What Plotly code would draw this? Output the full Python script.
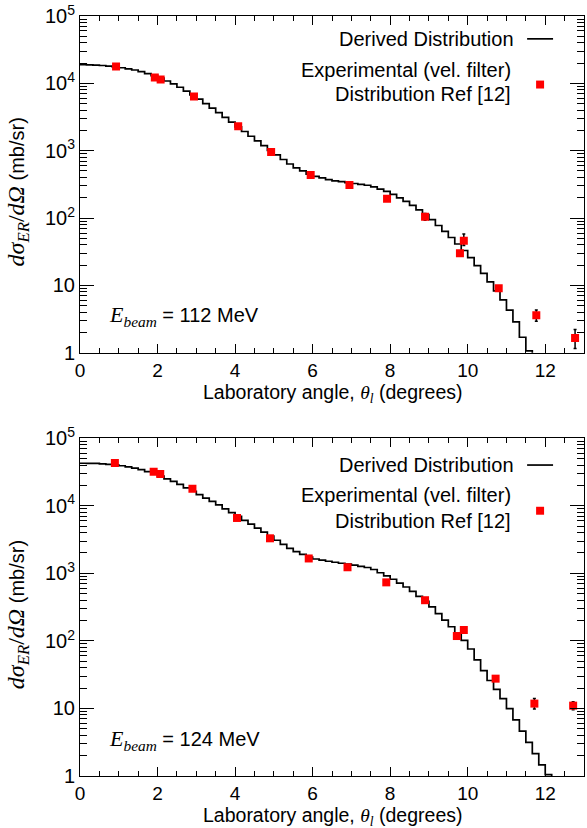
import numpy as np
import plotly.graph_objects as go

# ---------------- data ----------------
bin_width = 1.0 / 6.0  # degrees

derived_112 = [18970, 18840, 18710, 18410, 17990, 17580, 17060, 16410, 15780,
               14960, 13960, 13030, 11970, 10840, 9820, 8750, 7670, 6730,
               5850, 5010, 4300, 3670, 3130, 2660, 2260, 1930, 1640,
               1400, 1190, 1010, 865, 741, 635, 558, 501, 450,
               415, 394, 373, 357, 347, 337, 326, 316, 307,
               290, 269, 249, 225, 200, 177, 154, 132, 113,
               94.8, 77.6, 63.5, 51.5, 41.2, 33.0, 25.8, 19.7, 15.1,
               11.3, 8.32, 6.12, 4.30, 2.88, 1.70, 1.07]

derived_124 = [42600, 42500, 42300, 41800, 41000, 40200, 39100, 37600, 36100,
               34300, 32000, 29900, 27500, 25100, 22900, 20700, 18400, 16400,
               14600, 13000, 11600, 10300, 9020, 7910, 6950, 6100, 5350,
               4680, 4070, 3550, 3090, 2690, 2340, 2090, 1910, 1740,
               1630, 1570, 1510, 1460, 1410, 1370, 1320, 1270, 1220,
               1140, 1020, 918, 817, 716, 628, 541, 457, 386,
               318, 254, 203, 162, 129, 102, 75.9, 52.5, 36.3,
               25.9, 19.1, 14.0, 9.93, 6.76, 4.60, 3.14, 2.14, 1.46, 1.05]

empty_bin = 0.1  # value used after the last filled bin (below the axis floor)

exp_angle_112 = [0.93, 1.93, 2.08, 2.94, 4.08, 4.93, 5.95, 6.95, 7.92, 8.9, 9.8, 9.9, 10.8, 11.77, 12.77]
exp_val_112 = [17800, 12200, 11400, 6400, 2300, 955, 436, 310, 194, 105, 30, 46, 9.1, 3.6, 1.66]
exp_errp_112 = [0, 0, 0, 0, 0, 0, 0, 0, 0, 12, 0, 12, 0.8, 0.7, 0.55]
exp_errm_112 = [0, 0, 0, 0, 0, 0, 0, 0, 0, 12, 0, 7, 0.8, 0.65, 0.5]

exp_angle_124 = [0.9, 1.9, 2.07, 2.9, 4.05, 4.9, 5.9, 6.9, 7.9, 8.9, 9.72, 9.9, 10.72, 11.72, 12.72]
exp_val_124 = [43000, 32000, 29500, 17800, 6600, 3300, 1660, 1230, 735, 400, 118, 145, 27.6, 11.8, 11.0]
exp_errp_124 = [0, 0, 0, 0, 0, 0, 0, 0, 0, 0, 0, 0, 0, 2.2, 1.6]
exp_errm_124 = [0, 0, 0, 0, 0, 0, 0, 0, 0, 0, 0, 0, 0, 2.0, 1.4]

y_tickvals = [1, 10, 100, 1000, 10000, 100000]
y_ticktext = ["1", "10", "10<sup>2</sup>", "10<sup>3</sup>", "10<sup>4</sup>", "10<sup>5</sup>"]
beam_energies = ["112", "124"]

# ---------------- layout helpers ----------------
W, H = 587, 828
ML, MR, MT, MB = 80, 2, 11, 52
PW, PH = W - ML - MR, H - MT - MB


def px(xp):
    return (xp - ML) / PW


def py(yp):
    return (H - MB - yp) / PH


SANS = "Liberation Sans, Arial, sans-serif"
SERIF = "Liberation Serif, Times New Roman, serif"
FS = 20
TFS = 19

fig = go.Figure()


def step_xy(vals):
    n = len(vals)
    edges = np.arange(n + 1) * bin_width
    return edges, list(vals) + [empty_bin]


panels = [
    (derived_112, exp_angle_112, exp_val_112, exp_errp_112, exp_errm_112, "x", "y"),
    (derived_124, exp_angle_124, exp_val_124, exp_errp_124, exp_errm_124, "x2", "y2"),
]
for der, ea, ev, ep, em, xa, ya in panels:
    sx, sy = step_xy(der)
    fig.add_trace(go.Scatter(x=sx, y=sy, mode="lines", line=dict(color="black", width=1.7, shape="hv"),
                             xaxis=xa, yaxis=ya, showlegend=False, hoverinfo="skip"))
    fig.add_trace(go.Scatter(x=ea, y=ev, mode="markers",
                             marker=dict(symbol="square", size=8, color="#ff0000"),
                             error_y=dict(type="data", symmetric=False, array=ep, arrayminus=em,
                                          color="black", thickness=1.5, width=1.5),
                             xaxis=xa, yaxis=ya, showlegend=False))

xcommon = dict(range=[0, 13], tick0=0, dtick=2, ticks="inside", ticklen=9, tickwidth=1, tickcolor="black",
               minor=dict(ticks="inside", ticklen=5, dtick=0.5, tick0=0, tickcolor="black", tickwidth=1),
               showline=True, linecolor="black", linewidth=1, mirror="ticks", showgrid=False, zeroline=False,
               tickfont=dict(family=SANS, size=TFS, color="black"))
ycommon = dict(type="log", range=[0, 5], tickmode="array", tickvals=y_tickvals, ticktext=y_ticktext,
               ticks="inside", ticklen=14, tickwidth=1, tickcolor="black",
               minor=dict(ticks="inside", ticklen=7, dtick="D1", tickcolor="black", tickwidth=1),
               showline=True, linecolor="black", linewidth=1, mirror="ticks", showgrid=False, zeroline=False,
               tickfont=dict(family=SANS, size=FS, color="black"))

top_bottom_px = 350
bot_top_px = 436
fig.update_layout(
    width=W, height=H, margin=dict(l=ML, r=MR, t=MT, b=MB),
    paper_bgcolor="white", plot_bgcolor="white",
    xaxis=dict(anchor="y", domain=[0, 1], **xcommon),
    yaxis=dict(anchor="x", domain=[py(top_bottom_px), 1], **ycommon),
    xaxis2=dict(anchor="y2", domain=[0, 1], **xcommon),
    yaxis2=dict(anchor="x2", domain=[0, py(bot_top_px)], **ycommon),
    showlegend=False,
)

ytitle = ('<span style="font-family:%s;font-size:24px"><i>dσ</i><sub><i>ER</i></sub>/<i>dΩ</i></span> (mb/sr)'
          % SERIF)
xtitle = ('Laboratory angle, <span style="font-family:%s"><i>θ</i><sub><i>l</i></sub></span> (degrees)'
          % SERIF)

annotations = []
shapes = []
# panel-specific pixel anchors: (axis bottom, axis top, legend line y, exp text y1, y2, marker y, ebeam y)
panel_px = [
    (350, 11, 34, 65, 90, 80, 313),
    (776, 436, 463, 493, 519, 509, 740),
]
for (ybot, ytop, ly, t1, t2, my, eb), energy in zip(panel_px, beam_energies):
    annotations.append(dict(x=px(18), y=py((ybot + ytop) / 2 + 8), xref="paper", yref="paper",
                            text=ytitle, textangle=-90, showarrow=False, xanchor="center", yanchor="middle",
                            font=dict(family=SANS, size=FS, color="black")))
    annotations.append(dict(x=0.5, y=py(ybot + 26), xref="paper", yref="paper", text=xtitle,
                            showarrow=False, xanchor="center", yanchor="top",
                            font=dict(family=SANS, size=19.5, color="black")))
    annotations.append(dict(x=px(517), y=py(ly), xref="paper", yref="paper", text="Derived Distribution",
                            showarrow=False, xanchor="right", yanchor="middle",
                            font=dict(family=SANS, size=FS, color="black")))
    annotations.append(dict(x=px(514), y=py(t1), xref="paper", yref="paper", text="Experimental (vel. filter)",
                            showarrow=False, xanchor="right", yanchor="middle",
                            font=dict(family=SANS, size=FS, color="black")))
    annotations.append(dict(x=px(514), y=py(t2), xref="paper", yref="paper", text="Distribution Ref [12]",
                            showarrow=False, xanchor="right", yanchor="middle",
                            font=dict(family=SANS, size=FS, color="black")))
    annotations.append(dict(x=px(107), y=py(eb), xref="paper", yref="paper",
                            text=('<span style="font-family:%s;font-size:22px"><i>E</i><sub><i>beam</i></sub></span>'
                                  ' = %s MeV' % (SERIF, energy)),
                            showarrow=False, xanchor="left", yanchor="middle",
                            font=dict(family=SANS, size=FS, color="black")))
    shapes.append(dict(type="line", xref="paper", yref="paper", x0=px(528), x1=px(554), y0=py(ly), y1=py(ly),
                       line=dict(color="black", width=1.7)))
    shapes.append(dict(type="rect", xref="paper", yref="paper", x0=px(537), x1=px(545), y0=py(my - 4),
                       y1=py(my + 4), line=dict(width=0), fillcolor="#ff0000"))

fig.update_layout(annotations=annotations, shapes=shapes)
fig.write_html("out.html")
